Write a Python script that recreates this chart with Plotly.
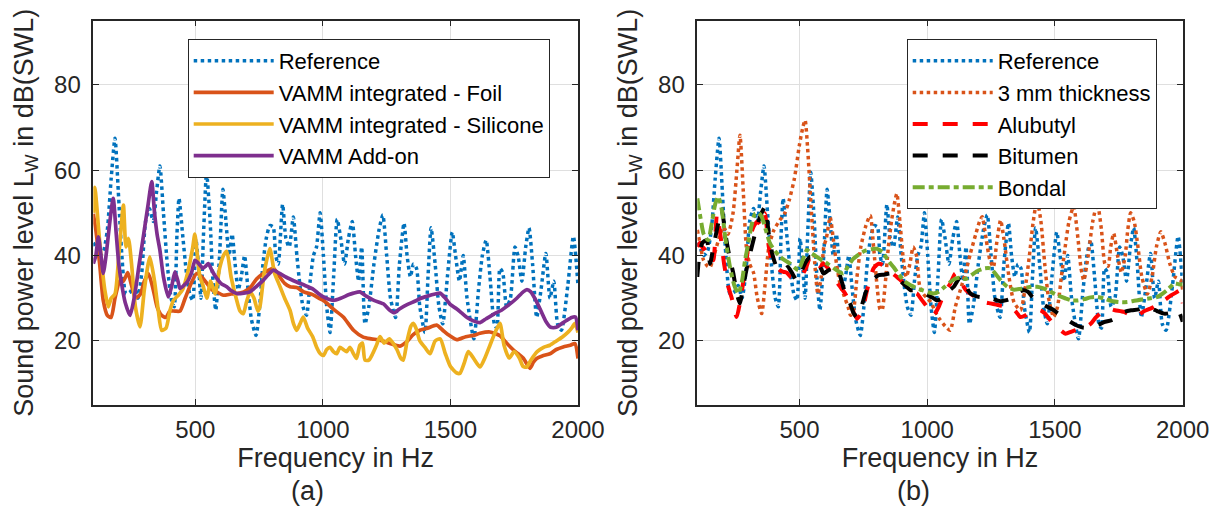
import plotly.graph_objects as go

# ---------------- data ----------------
ref_f = [100,110,125,140,155,170,185,198,212,228,245,260,275,290,305,320,335,348,361,375,390,405,417,428,436,450,465,478,490,502,512,522,532,544,558,568,580,595,608,620,632,644,656,668,680,693,705,720,738,752,765,778,792,805,815,825,842,855,868,884,898,910,922,936,950,963,975,989,1002,1015,1028,1042,1056,1070,1085,1100,1115,1128,1140,1152,1165,1180,1200,1220,1235,1250,1265,1285,1300,1318,1330,1343,1355,1367,1380,1400,1412,1424,1440,1455,1470,1488,1507,1520,1535,1550,1565,1592,1610,1625,1640,1655,1672,1682,1694,1705,1720,1735,1753,1765,1780,1795,1808,1822,1838,1855,1874,1890,1905,1920,1935,1960,1982,2000]
ref_L = [43,42,40,41,46,58,67.5,55,40,31,31.5,33,30,36,48,51,48,55,61,50,38,30,28,45,53.4,45,36,31,29.5,44,38,30,45,59.5,48,35,27.2,40,55.5,48,40,45,38,32,35,40,33,25,21.3,28,38,44,47,46.7,40,38,52,44,42,49,40,33,28,26,34,40,42,50,40,28,22,35,48.5,44,38,44,48,40,34,42,24,28,38,46,49.5,40,30,25.5,38,47.6,40,35,38,37,28,22,35,46.5,38,28,24,35,45.5,40,34,40,30,20.5,32,40,43.6,35,24,23,37,36,28,30,42,40,34,42,46.5,38,25.5,32,40.5,30,34,24,22.5,33,44.5,33]

foil_f = [100,110,125,139,155,170,185,205,218,235,250,265,285,300,316,335,350,368,385,400,420,440,460,480,505,525,545,565,583,610,640,662,690,715,740,766,785,806,825,850,871,897,925,962,985,1002,1040,1080,1120,1158,1190,1224,1263,1302,1328,1354,1380,1410,1446,1470,1490,1525,1560,1590,1616,1655,1694,1720,1745,1765,1785,1812,1825,1838,1860,1890,1915,1942,1970,1988,2000]
foil_L = [49.8,46,38,29.5,26,25.5,30,34.2,34,36,33,30,31,34,35.8,32,28,26,25.5,27,27,27,30,33,35.8,35,33.5,32,31.5,30.7,31,31.1,31.5,32.5,34.5,35.8,36.5,37,35.5,33.5,32.7,32.5,31.5,30.8,30,29.5,27.5,25.6,22.5,20.9,20.5,20.2,19.4,18.8,19.8,21.5,22.5,23,23.7,22.5,21.5,20.3,21,21.3,21.8,22.1,21.2,19.5,18,17,16,13.6,15,15.9,16.5,17,18,18.6,19,19.4,15.9]

sil_f = [100,106,113,120,130,145,159,170,185,200,218,228,238,250,265,283,300,315,322,340,355,368,385,400,414,430,450,470,490,498,508,518,530,545,560,577,595,610,623,640,660,675,688,700,715,730,745,753,770,792,810,830,850,871,885,897,910,923,940,960,975,990,1002,1015,1028,1041,1054,1067,1080,1093,1106,1120,1132,1145,1155,1165,1180,1195,1210,1224,1240,1260,1275,1290,1305,1315,1330,1345,1354,1365,1380,1400,1420,1440,1460,1480,1500,1525,1537,1555,1570,1590,1616,1635,1655,1675,1694,1710,1730,1750,1770,1785,1799,1815,1840,1865,1890,1915,1940,1960,1975,1988,2000]
sil_L = [50,56,52,46.7,40,32,28,30,31,40,51.8,42,44,38,28,23.3,32,38,39.7,34,27,22.5,23,27,29.5,30.5,32,36,42,45,40,35,33,30,34,31,37,40,41,35,30,27,26.4,29,31.5,30,27,28,36,41.6,36,33,30,27.2,24,22.5,24,25.6,23,21,18.6,17,16.6,18,18.5,17.5,17,18.5,18,17.5,18.5,17,15.9,19,19.5,15.5,15.5,17,19,21,19.5,20.5,19.5,18,16,15.5,20,23.5,24.1,23,20,18.5,17,20,20.5,17,14,12.5,12.4,15,17.5,16,13.9,16,19,22,24.1,19,16,17.5,16,14,13.9,15.5,17.5,18.5,19,20,21,22,23,24.1,22]

add_f = [100,110,120,130,139,150,165,178,190,200,211,225,244,260,280,300,315,329,340,350,361,375,394,408,420,432,440,455,470,485,499,515,530,540,551,565,580,600,623,640,662,690,714,740,766,786,806,830,860,897,930,960,985,1002,1020,1041,1070,1100,1120,1145,1170,1200,1237,1260,1280,1300,1330,1360,1380,1410,1440,1459,1480,1500,1525,1545,1565,1590,1616,1640,1670,1700,1730,1760,1785,1800,1815,1835,1855,1875,1893,1915,1935,1955,1975,1990,2000]
add_L = [38.1,40,44.4,40,35.8,40,48,53.4,45,38,33.4,29,26,30,38,46,52,57.3,50,45,41.3,35,30.3,33,36.2,34,32.3,33,34,36,38.9,38,37,37.5,38.1,36.5,35,33.5,32.7,31.8,31.1,31.2,31.5,32.8,34.2,35.5,36.6,35.8,34.8,33.8,33,32.2,31,30.3,29.8,29.5,30,30.8,31.2,31.5,30.5,29.5,28.7,27.3,26.6,27.5,28.5,29.3,29.9,30.5,31,31.2,30,28.5,27.5,26.5,25.5,24.7,24.3,25.2,26.3,27.2,28.5,30,31.5,32,31.5,29.5,27,24.5,23.2,23.2,24,24.8,25.5,25.6,22.5]

mm3_f = [100,110,124,140,150,165,185,202,220,240,255,267,280,292,305,320,335,352,365,380,400,420,443,460,480,500,513,522,532,545,560,572,585,595,605,620,632,645,660,672,690,700,711,725,740,760,777,790,805,815,823,835,848,860,871,881,893,905,918,932,945,958,970,985,1000,1015,1030,1050,1070,1090,1110,1130,1150,1169,1190,1205,1215,1230,1245,1259,1272,1287,1300,1320,1340,1365,1385,1400,1415,1430,1445,1460,1475,1495,1510,1525,1540,1555,1573,1590,1602,1613,1630,1648,1666,1682,1696,1708,1718,1730,1745,1760,1775,1785,1796,1810,1825,1840,1862,1880,1897,1914,1930,1950,1970,1992,2000]
mm3_L = [46,43,39,37.5,37.3,40,44,46.7,45,50,60,68.2,55,42,38,36,30,26.4,33,42,46,48,50,53,58,66,70,71.7,65,52,38,31,35,42,44,49,44,38,33,31,28,26,27,35,42,47,49.4,42,32,27.5,27.2,33,42,48,52,54.5,48,40,35,38,42,40,33,31,30,29,27,25,23.5,22.5,28,32,36,40.5,45,48,49.1,44,39,37.3,43,48.3,44,35,29,27.2,33,40,48,53,48,38,30,25.6,28,35,42,48,51.5,44,37,34.2,40,48,52.2,46,38,37.5,42,45.2,40,36,40,46,50,48,42,35,31,35,42,45.6,43,38,35,34.2,31.9]

alu_f = [100,110,124,137,150,163,177,190,205,220,235,254,270,290,305,320,335,350,364,380,395,411,425,437,450,465,489,505,525,542,560,580,594,612,633,655,679,700,725,745,765,790,810,835,860,881,900,920,940,960,980,999,1012,1025,1045,1065,1090,1110,1130,1150,1170,1188,1208,1230,1247,1270,1295,1326,1345,1365,1385,1405,1425,1443,1460,1480,1500,1522,1541,1565,1590,1613,1640,1660,1692,1710,1735,1770,1790,1809,1830,1850,1870,1888,1905,1927,1950,1970,1992,2000]
alu_L = [42,43,41.5,42,41,38.9,49.7,45,38,33,30,25.6,30,38,44,46.7,48,47,49.9,42,38,37.3,36.5,36.2,36,35,34.6,35,37,39.7,38.5,37.5,38.1,37,35,33,31.1,28.5,25.2,27,32,37,38.1,37.5,36,35,34,32.5,31.5,31.1,29.5,28,27,26,28,31,33.4,35.8,34,32,31,30.3,29.5,29,28.8,28.5,28.2,28,27,25.6,26,26.8,27,27.2,26.5,25,23.5,22.5,21.7,22.2,22.7,23,24,25.5,27.2,27.6,27.2,26.8,26.2,25.6,26.2,27,27.5,28,29.1,29.5,30.5,31.2,31.9,28.8]

bit_f = [100,108,120,137,150,163,180,195,210,225,241,255,267,280,297,313,330,345,365,380,395,411,425,437,455,470,489,505,525,542,560,580,594,612,632,646,660,680,698,712,725,740,760,783,810,830,855,880,905,934,960,1000,1020,1038,1060,1080,1104,1130,1150,1169,1190,1208,1230,1250,1286,1306,1330,1360,1378,1395,1412,1440,1470,1496,1510,1535,1560,1590,1613,1640,1670,1692,1722,1750,1770,1800,1828,1848,1870,1900,1927,1945,1966,1985,2000]
bit_L = [35,40,43,43.6,38.1,42,47,51,45,40,35.8,31,28.8,33,38,42,46,49,51.4,45,40,37.3,36.8,36.5,37.3,36,34.2,36,38.5,39.7,39,37.5,35.8,36.5,37,37.3,35,31,28.8,26.5,25.6,27.5,31.5,34.2,35.4,35.5,35.8,35,33.5,31.9,31.9,30.8,30.2,29.5,30,31.5,32.7,35,33,31.1,30.5,30.3,30.5,30,29.3,29.5,30,31.5,31.9,31.5,30.3,29,28,27.2,26.5,25.6,24.5,23.5,23.1,23.3,23.8,24.4,24.9,25.8,26.8,27.2,27.4,28,27.8,27,26.4,26.5,27.2,26.8,24.5]

bon_f = [100,112,124,135,143,155,170,182,195,210,228,245,261,275,287,300,312,326,340,352,368,385,405,424,445,463,480,496,510,529,548,568,590,612,635,655,672,690,710,738,760,780,803,825,845,868,890,910,930,947,965,985,1005,1025,1045,1065,1090,1110,1130,1150,1175,1200,1225,1247,1270,1290,1313,1340,1365,1390,1410,1430,1455,1480,1509,1540,1565,1590,1615,1640,1666,1695,1725,1755,1783,1810,1840,1874,1901,1920,1940,1953,1966,1985,2000]
bon_L = [53.4,49,45.2,44,43.6,47,52,53.8,51,44,37.3,33,31.1,34,38.9,43,47,49.8,50,49.1,46,42.8,41,39.7,38.8,38.1,37.2,36.6,38.5,41.3,40.5,39.7,38.8,38,37,36.2,35.8,37.5,39.2,40.5,41.2,41.5,41.6,40.8,39,37.3,35.5,34,33.2,32.7,32.2,31.8,31.4,31.1,31.5,32.5,33.8,34.6,34.8,34.5,35.5,36.5,37,37,35.5,34,32.7,32,32.2,32.5,32.7,32.7,32.3,31.6,30.7,30,29.5,29.5,29.8,30.2,30.3,29.9,29.3,29.1,29.1,29.4,29.7,30,30.3,31,32,32.7,33.5,33.3,33.2]

x_ticks = [500, 1000, 1500, 2000]
y_ticks = [20, 40, 60, 80]
x_range = [100, 2000]
y_range = [5, 95]

# ---------------- styling ----------------
FONT = "Liberation Sans, Arial, Helvetica, sans-serif"
AX = "#262626"
GRID = "#DFDFDF"
W, H = 1218, 513

fig = go.Figure()

def add(xs, ys, name, color, dash, width, xa, ya, legend):
    fig.add_trace(go.Scatter(
        x=xs, y=ys, name=name, mode="lines",
        line=dict(color=color, dash=dash, width=width, shape="spline", smoothing=0.6),
        xaxis=xa, yaxis=ya, legend=legend))

# panel (a)
add(ref_f, ref_L, "Reference", "#0072BD", "dot", 3.5, "x", "y", "legend")
add(foil_f, foil_L, "VAMM integrated - Foil", "#D95319", "solid", 3.7, "x", "y", "legend")
add(sil_f, sil_L, "VAMM integrated - Silicone", "#EDB120", "solid", 3.7, "x", "y", "legend")
add(add_f, add_L, "VAMM Add-on", "#7E2F8E", "solid", 3.7, "x", "y", "legend")
# panel (b)
add(ref_f, ref_L, "Reference", "#0072BD", "dot", 3.5, "x2", "y2", "legend2")
add(mm3_f, mm3_L, "3 mm thickness", "#D95319", "dot", 3.5, "x2", "y2", "legend2")
add(alu_f, alu_L, "Alubutyl", "#FF0000", "15px,15px", 4, "x2", "y2", "legend2")
add(bit_f, bit_L, "Bitumen", "#000000", "15px,15px", 4, "x2", "y2", "legend2")
add(bon_f, bon_L, "Bondal", "#77AC30", "12px,4px,5px,4px", 4, "x2", "y2", "legend2")

def xaxis(dom, anchor):
    return dict(domain=dom, anchor=anchor, range=x_range, tickvals=x_ticks, automargin=False,
                ticks="inside", ticklen=6, tickwidth=1, tickcolor=AX,
                showline=True, linecolor=AX, linewidth=1.5, mirror="ticks",
                showgrid=True, gridcolor=GRID, gridwidth=1, zeroline=False,
                tickfont=dict(family=FONT, size=24, color=AX), ticklabelstandoff=2,
                title=dict(text="Frequency in Hz", font=dict(family=FONT, size=27, color=AX), standoff=3))

def yaxis(dom, anchor):
    return dict(domain=dom, anchor=anchor, range=y_range, tickvals=y_ticks, automargin=False,
                ticks="inside", ticklen=6, tickwidth=1, tickcolor=AX,
                showline=True, linecolor=AX, linewidth=1.5, mirror="ticks",
                showgrid=True, gridcolor=GRID, gridwidth=1, zeroline=False,
                tickfont=dict(family=FONT, size=24, color=AX), ticklabelstandoff=6,
                title=dict(text="Sound power level L<sub>W</sub> in dB(SWL)",
                           font=dict(family=FONT, size=27, color=AX), standoff=13))

ydom = [1 - 405 / H, 1 - 20.7 / H]

def legend(xpx):
    return dict(x=xpx / W, y=1 - 39 / H, xanchor="left", yanchor="top",
                bgcolor="white", bordercolor=AX, borderwidth=1,
                font=dict(family=FONT, size=22, color="black"),
                itemwidth=80, tracegroupgap=0)

fig.update_layout(
    width=W, height=H, autosize=False, margin=dict(l=0, r=0, t=0, b=0, pad=0, autoexpand=False),
    paper_bgcolor="white", plot_bgcolor="white",
    xaxis=xaxis([93.3 / W, 578 / W], "y"),
    yaxis=yaxis(ydom, "x"),
    xaxis2=xaxis([697.3 / W, 1182.7 / W], "y2"),
    yaxis2=yaxis(ydom, "x2"),
    legend=legend(187.7),
    legend2=legend(906.7),
    showlegend=True,
    annotations=[
        dict(text="(a)", x=307 / W, y=1 - 491 / H, xref="paper", yref="paper",
             xanchor="center", yanchor="middle",
             showarrow=False, font=dict(family=FONT, size=27, color=AX)),
        dict(text="(b)", x=913 / W, y=1 - 491 / H, xref="paper", yref="paper",
             xanchor="center", yanchor="middle",
             showarrow=False, font=dict(family=FONT, size=27, color=AX)),
    ],
)

fig.write_html("out.html", config={"responsive": False})
